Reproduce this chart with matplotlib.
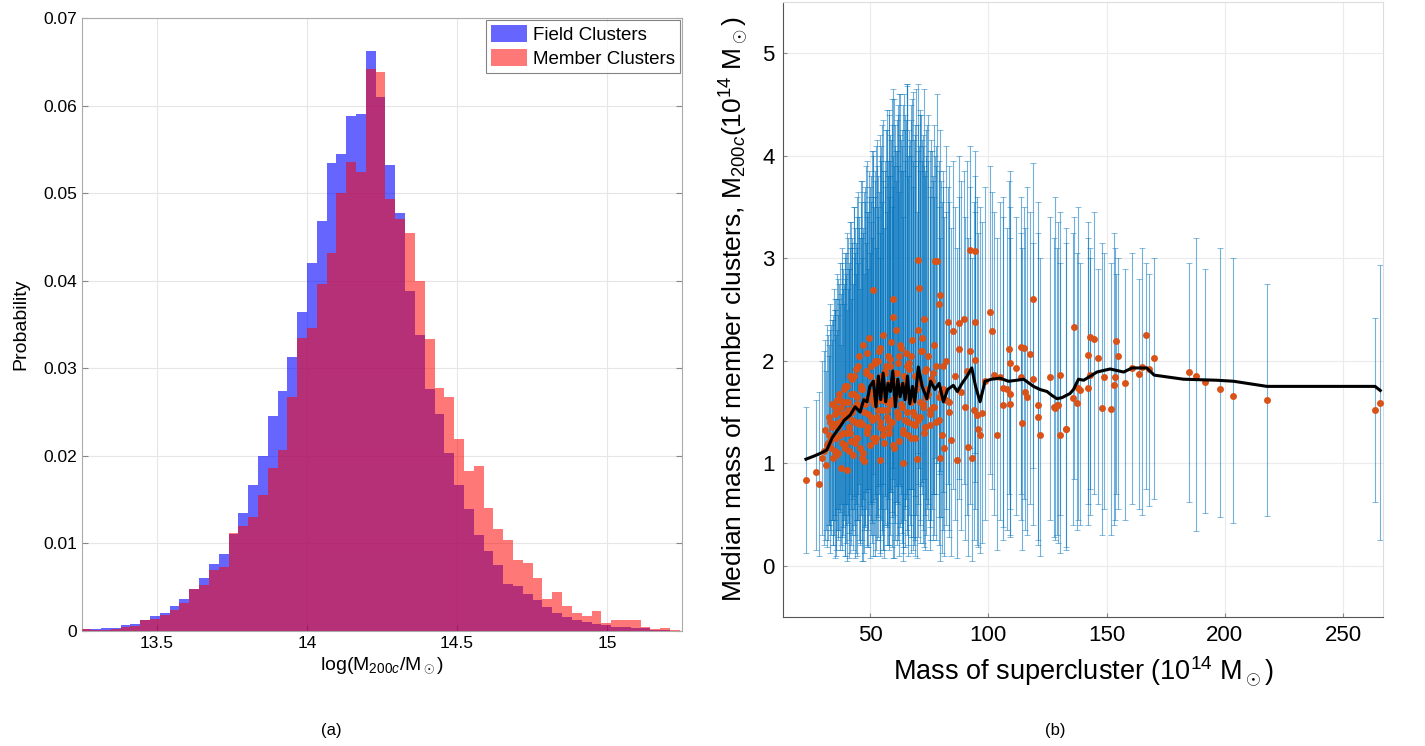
import matplotlib
matplotlib.use('Agg')
import matplotlib.pyplot as plt
import numpy as np

plt.rcParams['font.family'] = ['Liberation Sans', 'DejaVu Sans']
plt.rcParams['mathtext.fontset'] = 'custom'
plt.rcParams['mathtext.rm'] = 'Liberation Sans'
plt.rcParams['mathtext.it'] = 'Liberation Sans:italic'

# ---- panel (a): histogram data ----
bin_start = 13.248
bin_width = 0.0327
field_prob = [0.0002, 0.0002, 0.0003, 0.0003, 0.0007, 0.0008, 0.0012, 0.00175, 0.0021, 0.0029,
              0.0037, 0.0048, 0.0061, 0.0077, 0.0088, 0.0111, 0.0135, 0.0167, 0.0200, 0.0245,
              0.0274, 0.0313, 0.0364, 0.0420, 0.0468, 0.0534, 0.0545, 0.0588, 0.0590, 0.0662,
              0.0610, 0.0532, 0.0477, 0.0388, 0.0338, 0.0276, 0.0248, 0.0203, 0.0167, 0.0139,
              0.0110, 0.0091, 0.0075, 0.0054, 0.0051, 0.0042, 0.0035, 0.0027, 0.0020, 0.0016,
              0.0012, 0.0010, 0.0008, 0.0007, 0.0005, 0.0004, 0.0003, 0.0003, 0.0001, 0.0001, 0.0]
member_prob = [0.0002, 0.0001, 0.00015, 0.0002, 0.0005, 0.0006, 0.0012, 0.0014, 0.0018, 0.0024,
               0.0032, 0.0048, 0.0052, 0.0070, 0.0073, 0.0112, 0.0120, 0.0130, 0.0155, 0.0186,
               0.0207, 0.0267, 0.0335, 0.0346, 0.0396, 0.0432, 0.0500, 0.0536, 0.0524, 0.0642,
               0.0638, 0.0493, 0.0470, 0.0455, 0.0400, 0.0333, 0.0278, 0.0267, 0.0219, 0.0183,
               0.0188, 0.0140, 0.0116, 0.0104, 0.0081, 0.0078, 0.0061, 0.0037, 0.0045, 0.0028,
               0.0021, 0.0017, 0.0023, 0.0009, 0.0012, 0.0012, 0.0012, 0.0004, 0.0002, 0.0003, 0.0001]

# ---- panel (b): per-supercluster medians with spread ----
sc_x = [22.9, 27.2, 28.6, 29.8, 30.7, 31.4, 32.0, 32.6,
        33.4, 34.0, 34.5, 35.1, 35.6, 36.0, 36.5, 36.9, 37.5, 37.9, 38.4, 38.8, 39.3, 39.7,
        40.1, 40.5, 40.9, 41.5, 41.9, 42.3, 42.7, 43.1,
        43.6, 44.0, 44.4, 44.8, 45.3, 45.7, 46.1, 46.5, 46.9, 47.3, 47.7, 48.1, 48.5, 49.0,
        49.4, 49.8, 50.2, 50.6, 51.0, 51.1, 51.5, 51.9, 52.4, 52.8,
        53.2, 53.6, 54.0, 54.2, 54.5, 54.9, 55.3, 55.7, 56.2, 56.6, 57.0, 57.4, 57.8, 58.2,
        58.6, 59.0, 59.4, 59.9, 59.9, 60.3, 60.7, 61.1, 61.5, 61.9, 62.3, 62.7, 63.1,
        63.7, 64.1, 64.5, 64.9, 65.3, 65.8, 66.2, 66.6, 67.1, 67.6, 68.0, 68.4, 69.0, 69.7,
        70.2, 70.4, 70.7, 71.3, 71.9, 72.4, 72.8, 73.3,
        73.8, 74.3, 75.2, 75.8, 76.4, 76.9, 77.5, 78.2, 79.0, 79.4, 79.6, 80.3, 80.8, 81.3,
        81.9, 82.8, 83.4, 84.3,
        85.2, 86.1, 86.7, 87.4, 87.4, 88.3, 89.5, 90.2, 91.0, 91.6, 92.3, 92.3, 93.0, 93.8,
        94.2, 94.4, 94.4, 95.2, 95.8, 96.5, 97.2, 98.7, 100.7, 101.5, 102.2, 103.6, 105.0,
        106.2, 106.4, 107.8, 108.7, 109.0, 109.2, 109.2, 111.7, 113.8, 113.9, 114.2, 115.2,
        115.5, 116.3, 117.7, 118.7, 118.8, 121.0, 121.2, 121.9, 126.1, 127.6, 128.3, 129.0,
        129.6, 130.3, 130.3, 132.8, 132.9,
        135.8, 136.4, 137.3, 137.8, 138.8, 142.2, 142.2, 143.1, 143.1, 144.5, 146.2, 148.0,
        149.1, 151.9, 153.0, 153.6, 154.1, 155.0, 157.6, 160.8, 163.5, 165.0, 166.7, 167.9, 170.2,
        184.8, 187.8, 191.4, 198.0, 203.4, 218.0, 263.5, 265.7]
sc_med = [0.84, 0.91, 0.80, 1.05, 1.12, 0.98, 1.20, 1.28,
          1.15, 1.35, 1.05, 1.48, 1.25, 1.62, 1.10, 1.40, 0.95, 1.55, 1.30, 1.72, 1.18, 1.45,
          0.93, 1.60, 1.35, 1.85, 1.22, 1.50, 1.08, 1.68,
          1.40, 1.92, 1.25, 1.55, 2.05, 1.15, 1.75, 1.38, 2.15, 1.02, 1.62, 1.88, 1.30, 1.48,
          2.22, 1.18, 1.70, 1.95, 1.42, 2.69, 1.58, 2.00, 1.25, 1.80,
          1.52, 2.10, 1.35, 1.03, 1.85, 1.62, 2.25, 1.20, 1.72, 1.95, 1.45, 2.05, 1.30, 1.78,
          1.58, 2.18, 1.40, 2.60, 2.43, 1.88, 1.65, 2.30, 1.50, 1.98, 1.22, 1.75, 2.12,
          1.55, 1.00, 1.85, 1.42, 2.08, 1.68, 1.28, 1.92, 1.60, 2.20, 1.38, 1.47, 1.37, 1.04,
          2.98, 2.30, 2.71, 1.78, 2.22, 1.55, 2.41, 1.90,
          1.65, 2.05, 1.37, 1.82, 1.55, 2.15, 2.97, 2.97, 2.55, 1.05, 2.64, 1.28, 1.72, 1.15,
          2.00, 2.38, 1.60, 1.23,
          2.29, 1.85, 1.03, 2.37, 2.11, 1.70, 2.41, 1.55, 1.90, 1.16, 3.08, 2.10, 1.05, 1.52,
          2.38, 3.07, 2.01, 1.47, 1.33, 1.28, 1.49, 1.80, 2.48, 2.29, 1.86, 1.28, 1.84,
          1.73, 1.57, 1.72, 2.11, 1.58, 1.98, 1.68, 1.93, 1.84, 2.13, 1.39, 2.12,
          1.70, 1.65, 2.07, 2.60, 1.82, 1.57, 1.45, 1.28, 1.84, 1.55, 1.54, 1.57,
          1.57, 1.86, 1.28, 1.33, 1.33,
          1.64, 2.33, 1.59, 1.73, 1.71, 2.06, 1.73, 2.23, 1.86, 2.21, 2.03, 1.54,
          1.84, 1.53, 1.76, 1.84, 2.19, 2.05, 1.78, 1.93, 1.87, 1.94, 2.25, 1.92, 2.03,
          1.89, 1.85, 1.79, 1.72, 1.66, 1.62, 1.52, 1.59]
sc_lo = [0.12, 0.15, 0.10, 0.30, 0.20, 0.35, 0.25, 0.40,
         0.30, 0.45, 0.20, 0.50, 0.15, 0.55, 0.25, 0.35, 0.20, 0.60, 0.30, 0.45, 0.10, 0.40,
         0.05, 0.50, 0.25, 0.70, 0.20, 0.35, 0.15, 0.55,
         0.30, 0.60, 0.10, 0.45, 0.80, 0.20, 0.50, 0.25, 0.65, 0.12, 0.40, 0.55, 0.18, 0.35,
         0.75, 0.08, 0.45, 0.60, 0.22, 0.90, 0.30, 0.65, 0.15, 0.50,
         0.28, 0.70, 0.12, 0.10, 0.45, 0.35, 0.80, 0.08, 0.40, 0.55, 0.20, 0.65, 0.15, 0.42,
         0.30, 0.72, 0.18, 0.95, 0.85, 0.50, 0.25, 0.78, 0.20, 0.60, 0.10, 0.38, 0.70,
         0.22, 0.05, 0.45, 0.18, 0.65, 0.30, 0.10, 0.50, 0.28, 0.75, 0.15, 0.20, 0.25, 0.08,
         1.10, 0.80, 0.95, 0.40, 0.70, 0.22, 0.85, 0.50,
         0.30, 0.60, 0.15, 0.45, 0.25, 0.70, 1.05, 1.00, 0.90, 0.05, 0.92, 0.12, 0.35, 0.10,
         0.55, 0.80, 0.28, 0.10,
         0.75, 0.45, 0.08, 0.85, 0.65, 0.35, 0.80, 0.25, 0.50, 0.10, 1.15, 0.60, 0.05, 0.25,
         0.82, 1.10, 0.55, 0.20, 0.18, 0.12, 0.22, 0.45, 0.90, 0.75, 0.50, 0.15, 0.45,
         0.38, 0.25, 0.35, 0.70, 0.28, 0.55, 0.30, 0.50, 0.45, 0.70, 0.15, 0.65,
         0.35, 0.30, 0.60, 0.95, 0.40, 0.25, 0.20, 0.10, 0.45, 0.28, 0.25, 0.30,
         0.22, 0.50, 0.12, 0.15, 0.18,
         0.40, 0.85, 0.35, 0.45, 0.40, 0.60, 0.40, 0.75, 0.50, 0.70, 0.60, 0.30,
         0.55, 0.30, 0.40, 0.45, 0.70, 0.55, 0.45, 0.60, 0.55, 0.50, 0.75, 0.58, 0.65,
         0.62, 0.34, 0.51, 0.48, 0.42, 0.49, 0.62, 0.25]
sc_hi = [1.55, 1.62, 1.70, 2.00, 2.10, 1.90, 2.25, 2.05,
         2.35, 2.20, 2.40, 2.50, 2.60, 2.30, 2.45, 2.75, 2.15, 2.65, 2.90, 2.55, 2.80, 3.05,
         2.50, 2.70, 2.95, 3.10, 2.60, 3.20, 2.75, 3.00,
         3.30, 2.85, 3.10, 2.95, 3.40, 2.70, 3.55, 3.00, 3.25, 2.85, 3.70, 3.15, 3.45, 2.90,
         3.60, 3.05, 3.80, 3.35, 3.20, 4.05, 3.50, 3.75, 3.10, 3.90,
         3.40, 3.65, 3.25, 3.00, 4.10, 3.55, 3.85, 3.30, 3.70, 4.25, 3.45, 3.95, 3.60, 4.40,
         3.80, 4.15, 3.50, 4.65, 4.00, 3.90, 4.30, 3.75, 4.05, 4.50, 3.65, 4.20, 3.85,
         4.10, 3.40, 4.60, 3.95, 4.35, 4.70, 3.80, 4.25, 4.00, 4.55, 3.70, 4.15, 3.90, 3.45,
         4.70, 4.30, 4.10, 4.45, 3.95, 4.20, 4.65, 3.85,
         4.00, 4.40, 3.60, 4.15, 3.75, 4.30, 4.00, 4.60, 3.95, 3.20, 4.25, 3.55, 3.85, 3.40,
         4.10, 3.70, 3.90, 3.30,
         3.95, 3.50, 3.10, 4.00, 3.60, 3.75, 3.85, 3.40, 3.95, 3.20, 4.10, 3.70, 3.00, 3.55,
         4.05, 3.80, 3.45, 3.60, 3.25, 3.50, 3.35, 3.70, 3.90, 3.65, 3.45, 3.20, 3.55,
         3.40, 3.60, 3.30, 3.75, 3.50, 3.20, 3.85, 3.40, 3.60, 3.25, 3.10, 3.50,
         3.30, 3.70, 3.45, 3.93, 3.15, 3.55, 3.25, 3.00, 3.40, 3.20, 3.60, 3.10,
         3.35, 3.45, 2.95, 3.15, 3.30,
         3.25, 3.40, 3.05, 3.50, 2.95, 3.20, 3.35, 3.10, 3.00, 3.45, 2.90, 3.15,
         3.05, 2.95, 3.25, 3.10, 2.85, 3.00, 2.90, 3.05, 2.80, 3.10, 2.95, 2.85, 3.00,
         2.95, 3.20, 2.90, 3.10, 3.00, 2.75, 2.42, 2.93]

# extra superclusters in the crowded low-mass part
cl_x = [31.0, 31.8, 32.5, 33.2, 33.9, 34.6, 35.3, 36.0, 36.7, 37.4, 38.1, 38.8, 39.5, 40.2,
        40.9, 41.6, 42.3, 43.0, 43.7, 44.4, 45.1, 45.8, 46.5, 47.2, 47.9, 48.6, 49.3, 50.0,
        50.7, 51.4, 52.1, 52.8, 53.5, 54.2, 54.9, 55.6, 56.3, 57.0, 57.7, 58.4, 59.1, 59.8,
        60.5, 61.2, 61.9, 62.6, 63.3, 64.0, 64.7, 65.4, 66.1, 66.8, 67.5, 68.2, 68.9, 69.6,
        70.3, 71.0, 71.7, 72.4, 73.1, 73.8, 74.5, 75.2, 76.0, 77.0, 78.0, 79.0, 80.0, 82.0]
cl_med = [1.32, 1.18, 1.45, 1.22, 1.58, 1.38, 1.12, 1.50, 1.68, 1.28,
          1.42, 1.60, 1.15, 1.75, 1.48, 1.30, 1.82, 1.55, 1.20, 1.65,
          1.95, 1.40, 1.72, 1.10, 1.58, 2.08, 1.35, 1.85, 1.62, 1.25,
          1.98, 1.45, 1.70, 2.12, 1.52, 1.33, 1.90, 1.60, 1.42, 2.02,
          1.75, 1.18, 1.65, 1.88, 1.48, 2.15, 1.55, 1.30, 1.78, 1.95,
          1.40, 1.62, 2.05, 1.50, 1.25, 1.72, 1.85, 1.45, 2.10, 1.58,
          1.35, 1.92, 1.68, 1.48, 1.80, 1.55, 1.95, 1.42, 1.70, 1.62]
cl_lo = [0.25, 0.18, 0.40, 0.12, 0.45, 0.30, 0.08, 0.35, 0.55, 0.15,
         0.28, 0.50, 0.10, 0.60, 0.32, 0.12, 0.65, 0.40, 0.08, 0.45,
         0.70, 0.22, 0.55, 0.05, 0.38, 0.75, 0.18, 0.62, 0.42, 0.10,
         0.70, 0.25, 0.48, 0.80, 0.30, 0.15, 0.68, 0.40, 0.20, 0.72,
         0.52, 0.08, 0.42, 0.62, 0.25, 0.78, 0.32, 0.12, 0.55, 0.70,
         0.20, 0.40, 0.75, 0.28, 0.10, 0.50, 0.60, 0.22, 0.78, 0.35,
         0.15, 0.65, 0.45, 0.25, 0.55, 0.30, 0.70, 0.20, 0.48, 0.40]
cl_hi = [2.20, 2.35, 2.15, 2.55, 2.40, 2.70, 2.50, 2.85, 2.60, 2.95,
         3.10, 2.75, 3.00, 3.25, 2.90, 3.35, 3.15, 3.50, 3.05, 3.40,
         3.65, 3.20, 3.75, 3.30, 3.55, 3.95, 3.45, 3.70, 4.05, 3.60,
         3.85, 4.15, 3.50, 4.00, 4.30, 3.75, 3.95, 4.45, 3.80, 4.20,
         4.55, 3.70, 4.10, 4.35, 3.90, 4.60, 4.25, 3.85, 4.40, 4.70,
         4.00, 4.15, 4.50, 3.95, 4.30, 4.65, 4.05, 3.85, 4.40, 4.10,
         3.80, 4.25, 3.95, 3.70, 4.05, 3.60, 3.90, 3.50, 3.75, 3.45]

# more of the core of the crowd
cm_x = [33.0, 34.2, 35.0, 35.8, 36.6, 37.2, 38.0, 38.6, 39.2, 39.9,
        40.6, 41.2, 41.8, 42.5, 43.2, 43.9, 44.6, 45.3, 46.0, 46.7,
        47.4, 48.2, 48.9, 49.6, 50.4, 51.2, 52.0, 52.6, 53.3, 54.0,
        54.8, 55.5, 56.2, 57.0, 57.8, 58.5, 59.3, 60.0, 60.8, 61.6,
        62.4, 63.2, 64.0, 64.8, 65.6, 66.5, 67.4, 68.3, 69.2, 70.1,
        71.0, 72.0, 73.0, 74.1, 75.3, 76.5, 77.8, 79.2, 81.0, 83.5]
cm_med = [1.40, 1.25, 1.55, 1.08, 1.35, 1.62, 1.20, 1.48, 1.75, 1.30,
          1.52, 1.12, 1.68, 1.42, 1.85, 1.25, 1.58, 1.38, 1.72, 1.05,
          1.50, 1.90, 1.32, 1.65, 1.45, 1.78, 1.22, 1.60, 2.00, 1.40,
          1.70, 1.28, 1.88, 1.52, 1.35, 1.95, 1.62, 1.15, 1.80, 1.45,
          2.05, 1.58, 1.32, 1.75, 1.50, 1.98, 1.25, 1.68, 1.85, 1.42,
          1.60, 2.10, 1.30, 1.72, 1.52, 1.88, 1.40, 1.65, 1.95, 1.50]
cm_lo = [0.35, 0.20, 0.45, 0.10, 0.28, 0.52, 0.15, 0.38, 0.60, 0.22,
         0.42, 0.08, 0.55, 0.30, 0.68, 0.12, 0.45, 0.25, 0.58, 0.05,
         0.35, 0.72, 0.20, 0.50, 0.30, 0.62, 0.10, 0.45, 0.78, 0.25,
         0.55, 0.15, 0.70, 0.38, 0.20, 0.75, 0.48, 0.08, 0.62, 0.30,
         0.80, 0.42, 0.18, 0.58, 0.35, 0.75, 0.12, 0.50, 0.68, 0.28,
         0.45, 0.82, 0.18, 0.55, 0.38, 0.70, 0.25, 0.48, 0.72, 0.35]
cm_hi = [2.30, 2.45, 2.60, 2.25, 2.80, 2.55, 2.95, 2.70, 3.05, 2.85,
         3.20, 2.90, 3.35, 3.10, 3.50, 3.15, 3.60, 3.30, 3.75, 3.20,
         3.65, 3.90, 3.40, 3.85, 3.55, 4.00, 3.60, 4.10, 3.80, 4.20,
         3.95, 4.35, 3.85, 4.25, 4.45, 3.95, 4.30, 4.55, 4.05, 4.40,
         4.60, 4.15, 4.50, 4.25, 4.68, 4.10, 4.35, 4.62, 4.20, 3.95,
         4.40, 4.15, 3.90, 4.30, 4.05, 3.80, 4.10, 3.85, 3.70, 3.55]

# running median through the medians
trend_x = [22.9, 26.3, 29.3, 31.7, 34.0, 35.5, 37.4, 39.1, 41.6, 43.7, 45.8, 47.3, 48.7,
           49.9, 51.4, 52.5, 53.5, 54.5, 55.5, 56.6, 57.6, 58.6, 59.6, 60.7, 61.7, 62.7,
           63.8, 64.8, 65.8, 66.8, 67.9, 68.9, 70.4, 72.0, 74.0, 75.6, 77.4, 79.2, 81.0,
           82.8, 85.2, 86.9, 88.9, 91.0, 93.0, 94.6, 96.5, 98.6, 101.3, 105.0, 108.5, 112.0,
           114.9, 119.1, 121.8, 124.8, 127.0, 129.0, 131.1, 134.5, 136.0, 138.1, 140.3,
           145.9, 151.5, 157.2, 160.8, 167.0, 170.1, 182.5, 196.6, 203.7, 217.8, 263.5, 265.7]
trend_y = [1.04, 1.07, 1.10, 1.13, 1.25, 1.30, 1.36, 1.42, 1.47, 1.55, 1.50, 1.62, 1.60,
           1.75, 1.80, 1.55, 1.85, 1.62, 1.88, 1.60, 1.78, 1.70, 1.90, 1.55, 1.82, 1.65,
           1.78, 1.62, 1.85, 1.58, 1.75, 1.60, 1.94, 1.75, 1.63, 1.80, 1.72, 1.78, 1.60,
           1.72, 1.76, 1.70, 1.78, 1.85, 1.93, 1.75, 1.60, 1.80, 1.82, 1.83, 1.80, 1.81,
           1.82, 1.75, 1.72, 1.70, 1.66, 1.63, 1.64, 1.68, 1.72, 1.82, 1.81,
           1.89, 1.92, 1.89, 1.93, 1.93, 1.86, 1.82, 1.81, 1.80, 1.75, 1.75, 1.71]

fig = plt.figure(figsize=(14.25, 7.46), dpi=100)

# ---------------- (a) ----------------
ax1 = fig.add_axes([0.0575, 0.1542, 0.4211, 0.8217])
left_edges = bin_start + bin_width * np.arange(len(field_prob))
ax1.bar(left_edges, field_prob, width=bin_width, align='edge', color='#0000ff', alpha=0.6,
        linewidth=0, label='Field Clusters', zorder=2)
ax1.bar(left_edges, member_prob, width=bin_width, align='edge', color='#ff0000', alpha=0.53,
        linewidth=0, label='Member Clusters', zorder=3)
ax1.set_xlim(13.25, 15.25)
ax1.set_ylim(0, 0.07)
ax1.set_xticks([13.5, 14, 14.5, 15])
ax1.set_xticklabels(['13.5', '14', '14.5', '15'])
ax1.set_yticks(np.arange(0, 0.071, 0.01))
ax1.set_yticklabels(['0', '0.01', '0.02', '0.03', '0.04', '0.05', '0.06', '0.07'])
ax1.grid(True, color='#e6e6e6', linewidth=0.8, zorder=0)
ax1.set_axisbelow(True)
ax1.tick_params(direction='in', labelsize=12.5, length=4, color='#888888', top=False, right=True)
for s in ax1.spines.values():
    s.set_color('#aaaaaa')
ax1.set_xlabel(r'log(M$_{200c}$/M$_\odot$)', fontsize=14, labelpad=3)
ax1.set_ylabel('Probability', fontsize=14, labelpad=10)
leg = ax1.legend(loc='upper right', fontsize=13.5, frameon=True, fancybox=False,
                 handlelength=1.9, handleheight=1.0, handletextpad=0.3, borderpad=0.3,
                 labelspacing=0.25, borderaxespad=0.1)
leg.get_frame().set_edgecolor('#666666')
leg.get_frame().set_linewidth(0.8)

# ---------------- (b) ----------------
ax2 = fig.add_axes([0.5495, 0.1729, 0.4211, 0.8244])
sx = np.array(sc_x + cl_x + cm_x)
sm = np.array(sc_med + cl_med + cm_med)
err = [sm - np.array(sc_lo + cl_lo + cm_lo), np.array(sc_hi + cl_hi + cm_hi) - sm]
ax2.errorbar(sx, sm, yerr=err, fmt='none', ecolor='#0072BD', elinewidth=0.8, capsize=2.2,
             capthick=0.6, alpha=0.55, zorder=2)
ax2.plot(sx, sm, 'o', color='#D95319', markersize=5, markeredgewidth=0, zorder=3)
ax2.plot(trend_x, trend_y, color='black', linewidth=2.2, zorder=4)
ax2.set_xlim(13.2, 266.9)
ax2.set_ylim(-0.5, 5.5)
ax2.set_xticks([50, 100, 150, 200, 250])
ax2.set_yticks([0, 1, 2, 3, 4, 5])
ax2.grid(True, color='#ebebeb', linewidth=0.8, zorder=0)
ax2.set_axisbelow(True)
ax2.tick_params(direction='in', labelsize=16, length=3, color='#888888', pad=6)
for s in ax2.spines.values():
    s.set_color('#555555')
ax2.spines['top'].set_color('#dddddd')
ax2.spines['right'].set_color('#dddddd')
ax2.set_xlabel(r'Mass of supercluster (10$^{14}$ M$_\odot$)', fontsize=19.5, labelpad=6)
ax2.set_ylabel(r'Median mass of member clusters, M$_{200c}$(10$^{14}$ M$_\odot$)', fontsize=19,
               labelpad=8)

fig.text(331 / 1425, 1 - 730 / 746, '(a)', ha='center', va='center', fontsize=12)
fig.text(1055 / 1425, 1 - 730 / 746, '(b)', ha='center', va='center', fontsize=12)

fig.savefig('out.png', dpi=100)
